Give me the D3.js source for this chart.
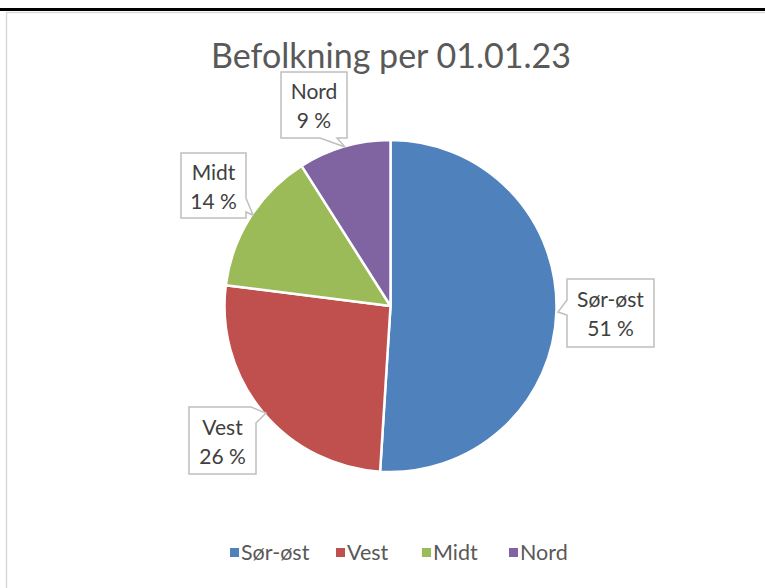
<!DOCTYPE html>
<html>
<head>
<meta charset="utf-8">
<script src="https://cdn.jsdelivr.net/npm/d3@7"></script>
<style>
  html, body { margin: 0; padding: 0; background: #fff; }
  svg { display: block; }
</style>
</head>
<body>
<svg id="chart" width="765" height="588"></svg>
<script>
// ---- data ----
const categories = ["Sør-øst", "Vest", "Midt", "Nord"];
const values = [51, 26, 14, 9];           // percent
const percentLabels = ["51 %", "26 %", "14 %", "9 %"];
const title = "Befolkning per 01.01.23";

// ---- style / layout ----
const colors = d3.scaleOrdinal().domain(categories)
  .range(["#4F81BD", "#C0504D", "#9BBB59", "#8064A2"]);
const W = 765, H = 588;
const cx = 390.5, cy = 306, R = 166;
const FONT = "Lato, 'Open Sans', 'Noto Sans', sans-serif";

// callout boxes (layout only)
const callouts = {
  "Sør-øst": { x0: 567, y0: 279, x1: 654, y1: 347, side: "left",   a: 300, b: 315, apex: [558, 312] },
  "Vest":    { x0: 189, y0: 407, x1: 256, y1: 474, side: "topright", a: 251, b: 423, apex: [266, 413] },
  "Midt":    { x0: 181, y0: 153, x1: 246, y1: 218, side: "right",  a: 198, b: 212, apex: [253, 215] },
  "Nord":    { x0: 281, y0: 72,  x1: 347, y1: 138, side: "bottom", a: 320, b: 337, apex: [345, 147] }
};

const svg = d3.select("#chart");

// top black rule and chart frame
svg.append("rect").attr("x", 0).attr("y", 8).attr("width", W).attr("height", 3).attr("fill", "#000");
svg.append("rect").attr("x", 6.5).attr("y", 12.5).attr("width", W + 10).attr("height", H + 10)
  .attr("fill", "#fff").attr("stroke", "#d9d9d9").attr("stroke-width", 1.5);

// title
const t = svg.append("text")
  .attr("x", 391).attr("y", 68)
  .attr("text-anchor", "middle")
  .attr("font-family", FONT)
  .attr("font-size", 31)
  .attr("fill", "#595959")
  .text(title);
(function fit(el, target) {
  const w = el.node().getComputedTextLength();
  if (w > 0) el.attr("font-size", 31 * target / w);
})(t, 360);

// pie
const pie = d3.pie().sort(null).value(d => d.v);
const data = categories.map((c, i) => ({ c, v: values[i], p: percentLabels[i] }));
const arcs = pie(data);
const arc = d3.arc().innerRadius(0).outerRadius(R);

const g = svg.append("g").attr("transform", `translate(${cx},${cy})`);
g.selectAll("path.slice").data(arcs).enter().append("path")
  .attr("class", "slice")
  .attr("d", arc)
  .attr("fill", d => colors(d.data.c))
  .attr("stroke", "#fff")
  .attr("stroke-width", 2.5)
  .attr("stroke-linejoin", "round");

// callouts
function calloutPath(o) {
  const { x0, y0, x1, y1, side, a, b, apex } = o;
  const A = apex.join(",");
  if (side === "left")
    return `M${x0},${y0}L${x1},${y0}L${x1},${y1}L${x0},${y1}L${x0},${b}L${A}L${x0},${a}Z`;
  if (side === "right")
    return `M${x0},${y0}L${x1},${y0}L${x1},${a}L${A}L${x1},${b}L${x1},${y1}L${x0},${y1}Z`;
  if (side === "bottom")
    return `M${x0},${y0}L${x1},${y0}L${x1},${y1}L${b},${y1}L${A}L${a},${y1}L${x0},${y1}Z`;
  if (side === "topright")
    return `M${x0},${y0}L${a},${y0}L${A}L${x1},${b}L${x1},${y1}L${x0},${y1}Z`;
}

const lg = svg.append("g");
arcs.forEach(d => {
  const o = callouts[d.data.c];
  lg.append("path").attr("d", calloutPath(o))
    .attr("fill", "#fff").attr("stroke", "#bfbfbf").attr("stroke-width", 1.5);
  const mx = (o.x0 + o.x1) / 2, my = (o.y0 + o.y1) / 2;
  const tx = lg.append("text")
    .attr("text-anchor", "middle")
    .attr("font-family", FONT)
    .attr("font-size", 21)
    .attr("fill", "#404040");
  tx.append("tspan").attr("x", mx).attr("y", my - 6).text(d.data.c);
  tx.append("tspan").attr("x", mx).attr("y", my + 23).text(d.data.p);
});

// legend
const legendX = [230, 336, 422, 509];
const leg = svg.append("g");
categories.forEach((c, i) => {
  leg.append("rect").attr("x", legendX[i]).attr("y", 548).attr("width", 9).attr("height", 9)
    .attr("fill", colors(c));
  leg.append("text").attr("x", legendX[i] + 11).attr("y", 560)
    .attr("font-family", FONT).attr("font-size", 21.5).attr("fill", "#595959").text(c);
});
</script>
</body>
</html>
